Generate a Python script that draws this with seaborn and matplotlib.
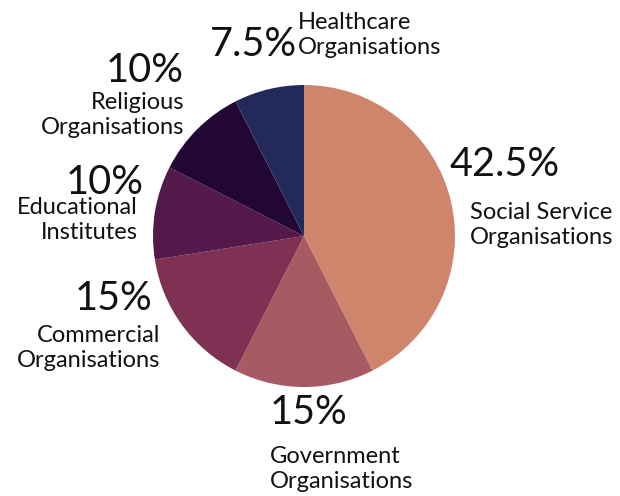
import matplotlib
matplotlib.use("Agg")
import matplotlib.pyplot as plt
import seaborn as sns

sns.set_theme(style="white")

categories = ["Social Service\nOrganisations", "Government\nOrganisations",
              "Commercial\nOrganisations", "Educational\nInstitutes",
              "Religious\nOrganisations", "Healthcare\nOrganisations"]
values = [42.5, 15, 15, 10, 10, 7.5]
pct_labels = ["42.5%", "15%", "15%", "10%", "10%", "7.5%"]
colors = sns.color_palette(["#CF846C", "#A85A62", "#7E3152", "#52194A", "#220734", "#23295A"])

W, H = 620, 496
fig = plt.figure(figsize=(W / 100, H / 100), dpi=100)
ax = fig.add_axes([0, 0, 1, 1])
ax.pie(values, colors=colors, startangle=90, counterclock=False,
       center=(304, H - 236), radius=151, wedgeprops=dict(linewidth=0))
ax.set_xlim(0, W)
ax.set_ylim(0, H)
ax.set_aspect("equal")
ax.axis("off")

pct_font = "Lato"
lab_font = "Lato"
pct_size = 28.5
lab_size = 17

# (pct x, pct y, pct ha, label x, label y, label ha) in pixel coords (top-left origin)
layout = [
    (450, 165, "left", 470, 225, "left"),
    (270, 412, "left", 270, 469, "left"),
    (152, 298, "right", 160, 348, "right"),
    (144, 182, "right", 138, 220, "right"),
    (184, 70, "right", 184, 115, "right"),
    (297, 44, "right", 298, 35, "left"),
]

for (px, py, pha, lx, ly, lha), pct, lab in zip(layout, pct_labels, categories):
    fig.text(px / W, 1 - py / H, pct, ha=pha, va="center", fontsize=pct_size,
             family=pct_font, color="#111111")
    fig.text(lx / W, 1 - ly / H, lab, ha=lha, va="center", fontsize=lab_size,
             family=lab_font, color="#111111", linespacing=1.25,
             multialignment=lha)

fig.savefig("out.png", dpi=100, facecolor="white")
